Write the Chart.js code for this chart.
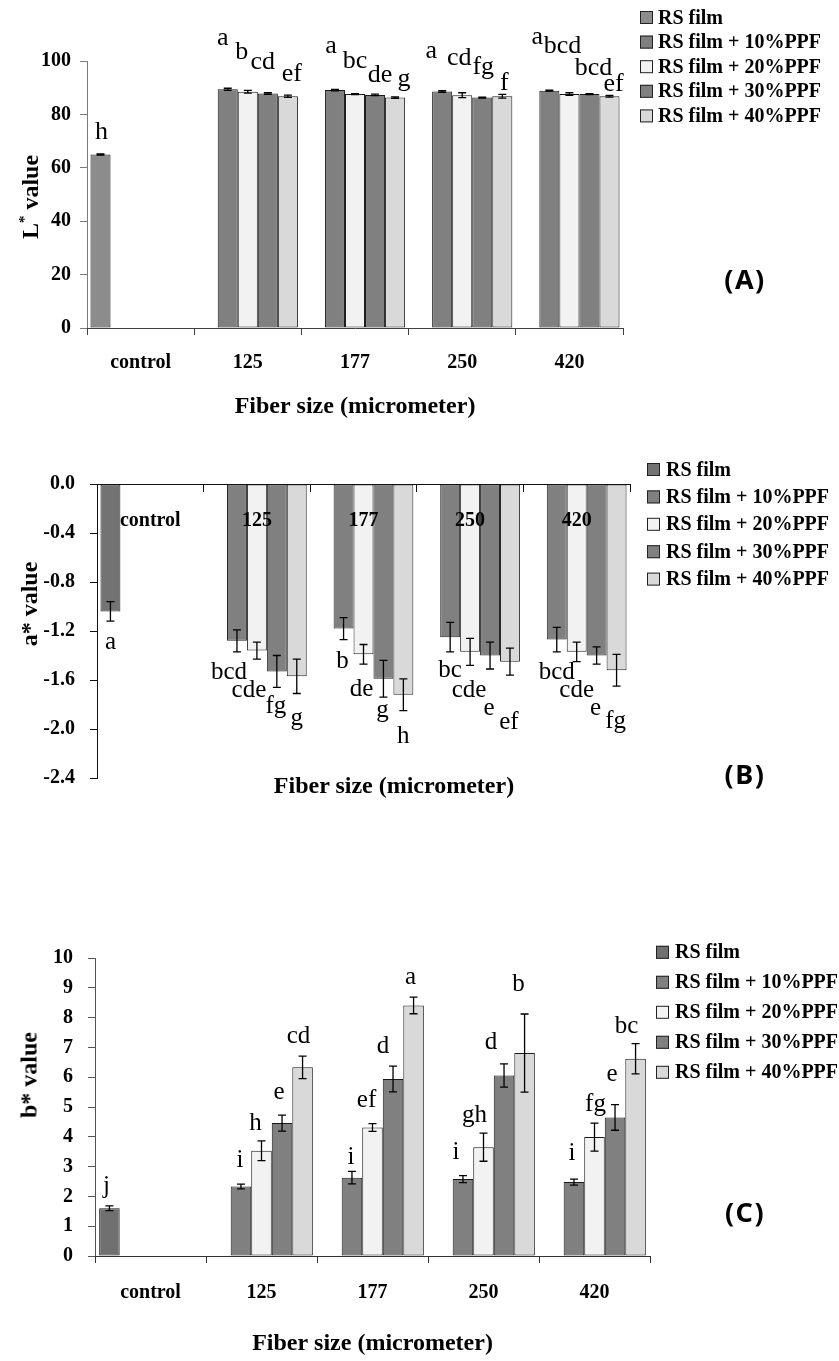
<!DOCTYPE html>
<html>
<head>
<meta charset="utf-8">
<script src="https://cdn.jsdelivr.net/npm/chart.js@4.4.1/dist/chart.umd.min.js"></script>
<style>
  html, body { margin: 0; padding: 0; background: #fff; overflow: hidden; }
  #page { position: relative; width: 839px; height: 1361px; background: #fff; }
  canvas { position: absolute; left: 0; }
  .ytitle { position: absolute; font: bold 24px "Liberation Serif", serif; white-space: nowrap;
            transform: translate(-50%, -50%) rotate(-90deg); }
  .ytitle sup { font-size: 15px; }
  .xtitle { position: absolute; font: bold 24px "Liberation Serif", serif; white-space: nowrap;
            transform: translate(-50%, -50%); }
  .tag { position: absolute; font: bold 27px "Noto Sans", sans-serif; letter-spacing: 1.5px;
         transform: translate(-50%, -50%); }
</style>
</head>
<body>
<div id="page">
  <canvas id="chartL" width="839" height="430" style="top:0px"></canvas>
  <canvas id="chartA" width="839" height="400" style="top:430px"></canvas>
  <canvas id="chartB" width="839" height="531" style="top:830px"></canvas>

  <div class="ytitle" style="left:30px; top:197px">L<sup>*</sup> value</div>
  <div class="ytitle" style="left:29px; top:604px">a* value</div>
  <div class="ytitle" style="left:29px; top:1075px">b* value</div>
  <div class="xtitle" style="left:394px; top:785px">Fiber size (micrometer)</div>

  <div class="tag" style="left:745px; top:278px">(A)</div>
  <div class="tag" style="left:745px; top:773px">(B)</div>
  <div class="tag" style="left:745px; top:1211px">(C)</div>
</div>

<script>
const categories = ['control', '125', '177', '250', '420'];
const seriesNames = ['RS film', 'RS film + 10%PPF', 'RS film + 20%PPF', 'RS film + 30%PPF', 'RS film + 40%PPF'];

// L* value (one row per series)
const lValues = [
  [65.0, null, null, null, null],
  [null, 89.4, 89.1, 88.6, 88.9],
  [null, 88.5, 87.6, 87.2, 87.6],
  [null, 87.8, 87.3, 86.3, 87.6],
  [null, 86.8, 86.3, 86.8, 86.8]
];
const lErrors = [
  [0.2, null, null, null, null],
  [null, 0.4, 0.3, 0.3, 0.2],
  [null, 0.5, 0.2, 0.9, 0.5],
  [null, 0.3, 0.3, 0.2, 0.2],
  [null, 0.4, 0.3, 0.7, 0.3]
];
const lLetters = [
  ['h', '', '', '', ''],
  ['', 'a', 'a', 'a', 'a'],
  ['', 'b', 'bc', 'cd', 'bcd'],
  ['', 'cd', 'de', 'fg', 'bcd'],
  ['', 'ef', 'g', 'f', 'ef']
];

// a* value
const aValues = [
  [-1.04, null, null, null, null],
  [null, -1.28, -1.18, -1.25, -1.27],
  [null, -1.36, -1.39, -1.37, -1.37],
  [null, -1.53, -1.59, -1.40, -1.40],
  [null, -1.57, -1.72, -1.45, -1.52]
];
const aErrors = [
  [0.08, null, null, null, null],
  [null, 0.09, 0.09, 0.12, 0.10],
  [null, 0.07, 0.08, 0.11, 0.08],
  [null, 0.13, 0.15, 0.11, 0.07],
  [null, 0.14, 0.13, 0.11, 0.13]
];
const aLetters = [
  ['a', '', '', '', ''],
  ['', 'bcd', 'b', 'bc', 'bcd'],
  ['', 'cde', 'de', 'cde', 'cde'],
  ['', 'fg', 'g', 'e', 'e'],
  ['', 'g', 'h', 'ef', 'fg']
];

// b* value
const bValues = [
  [1.60, null, null, null, null],
  [null, 2.33, 2.63, 2.58, 2.48],
  [null, 3.53, 4.31, 3.65, 3.99],
  [null, 4.46, 5.94, 6.06, 4.65],
  [null, 6.33, 8.41, 6.81, 6.62]
];
const bErrors = [
  [0.08, null, null, null, null],
  [null, 0.08, 0.21, 0.12, 0.10],
  [null, 0.33, 0.13, 0.47, 0.47],
  [null, 0.27, 0.43, 0.39, 0.43],
  [null, 0.38, 0.28, 1.31, 0.51]
];
const bLetters = [
  ['j', '', '', '', ''],
  ['', 'i', 'i', 'i', 'i'],
  ['', 'h', 'ef', 'gh', 'fg'],
  ['', 'e', 'd', 'd', 'e'],
  ['', 'cd', 'a', 'b', 'bc']
];

const SERIF = '"Liberation Serif", "Times New Roman", serif';

// error bars, letters and the side legend
const annotate = {
  id: 'annotate',
  afterDatasetsDraw(chart, args, opts) {
    const ctx = chart.ctx;
    const y = chart.scales.y;
    ctx.save();
    chart.data.datasets.forEach((ds, i) => {
      const meta = chart.getDatasetMeta(i);
      ds.data.forEach((v, j) => {
        if (v === null) return;
        const el = meta.data[j];
        const e = opts.errors[i][j];
        if (e) {
          const y1 = y.getPixelForValue(v - e), y2 = y.getPixelForValue(v + e);
          ctx.strokeStyle = '#000';
          ctx.lineWidth = 1.3;
          ctx.beginPath();
          ctx.moveTo(el.x, y1); ctx.lineTo(el.x, y2);
          ctx.moveTo(el.x - 4, y1); ctx.lineTo(el.x + 4, y1);
          ctx.moveTo(el.x - 4, y2); ctx.lineTo(el.x + 4, y2);
          ctx.stroke();
        }
        const txt = opts.letters[i][j];
        if (txt) {
          const off = opts.offsets[i][j];
          ctx.fillStyle = '#000';
          ctx.font = opts.letterFont;
          ctx.textAlign = 'center';
          ctx.textBaseline = 'alphabetic';
          ctx.fillText(txt, el.x + off[0], el.y + off[1]);
        }
      });
    });
    ctx.restore();
  },
  afterDraw(chart, args, opts) {
    const ctx = chart.ctx;
    const lg = opts.legend;
    ctx.save();
    chart.data.datasets.forEach((ds, i) => {
      const cy = lg.y + i * lg.gap;
      ctx.fillStyle = ds.backgroundColor;
      ctx.fillRect(lg.x, cy - 6.5, 13, 13);
      ctx.strokeStyle = '#222';
      ctx.lineWidth = 1;
      ctx.strokeRect(lg.x + 0.5, cy - 6, 12, 12);
      ctx.fillStyle = '#000';
      ctx.font = 'bold 20px ' + SERIF;
      ctx.textAlign = 'left';
      ctx.textBaseline = 'middle';
      ctx.fillText(ds.label, lg.textX, cy + 1);
    });
    ctx.restore();
  }
};

function makeChart(id, p) {
  const tickFont = { family: SERIF, size: 20, weight: 'bold' };
  return new Chart(document.getElementById(id), {
    type: 'bar',
    data: {
      labels: categories,
      datasets: seriesNames.map((name, i) => ({
        label: name,
        data: p.values[i],
        backgroundColor: p.colors[i],
        borderColor: p.edge,
        borderWidth: 1,
        borderSkipped: false,
        barPercentage: 1,
        categoryPercentage: p.catPct
      }))
    },
    options: {
      responsive: false,
      animation: false,
      layout: { padding: p.padding },
      plugins: {
        legend: { display: false },
        tooltip: { enabled: false },
        annotate: {
          errors: p.errors,
          letters: p.letters,
          offsets: p.offsets,
          letterFont: p.letterFont,
          legend: p.legend
        }
      },
      scales: {
        x: {
          position: p.xPos,
          offset: true,
          grid: { offset: true, drawOnChartArea: false, tickLength: 7, color: p.xLine },
          border: { color: p.xLine, width: 1, z: 1 },
          ticks: { z: 1, font: tickFont, color: '#000', padding: p.xPad, maxRotation: 0, autoSkip: false },
          title: {
            display: p.xTitle,
            text: 'Fiber size (micrometer)',
            font: { family: SERIF, size: 24, weight: 'bold' },
            color: '#000',
            padding: { top: 0, bottom: p.xTitlePad }
          },
          afterFit: (s) => { s.height = p.xHeight; }
        },
        y: {
          min: p.min,
          max: p.max,
          grid: { drawOnChartArea: false, tickLength: 7, color: p.yLine },
          border: { color: p.yLine, width: 1 },
          ticks: {
            stepSize: p.step,
            font: tickFont,
            color: '#000',
            padding: p.yPad,
            callback: p.fmt
          },
          afterFit: (s) => { s.width = p.left; }
        }
      }
    },
    plugins: [annotate]
  });
}

makeChart('chartL', {
  values: lValues, errors: lErrors, letters: lLetters,
  offsets: [
    [[1, -15], null, null, null, null],
    [null, [-5, -44], [-4, -37], [-11, -33], [-12, -47]],
    [null, [-6, -33], [0, -26], [-3, -30], [-7, -41]],
    [null, [-5, -25], [5, -13], [1, -24], [4, -19]],
    [null, [4, -15], [9, -12], [2, -6], [4, -5]]
  ],
  letterFont: '26px ' + SERIF,
  colors: ['#8c8c8c', '#808080', '#f2f2f2', '#808080', '#d9d9d9'],
  edge: '#1a1a1a',
  catPct: 0.935,
  padding: { left: 0, right: 216, top: 61, bottom: 0 },
  xPos: 'bottom', xPad: 16, xTitle: true, xTitlePad: 9, xHeight: 102,
  xLine: '#404040', yLine: '#7a7a7a',
  min: 0, max: 100, step: 20, yPad: 9, left: 87,
  fmt: (v) => String(v),
  legend: { x: 640, y: 17.5, gap: 24.6, textX: 658 }
});

makeChart('chartA', {
  values: aValues, errors: aErrors, letters: aLetters,
  offsets: [
    [[0, 38], null, null, null, null],
    [null, [-8, 38], [-1, 39], [0, 40], [0, 39]],
    [null, [-8, 46], [-2, 42], [-1, 45], [0, 45]],
    [null, [-1, 42], [-1, 38], [-1, 59], [-1, 59]],
    [null, [0, 49], [0, 48], [-1, 67], [-1, 58]]
  ],
  letterFont: '25px ' + SERIF,
  colors: ['#737373', '#808080', '#f2f2f2', '#808080', '#d9d9d9'],
  edge: '#262626',
  catPct: 0.935,
  padding: { left: 0, right: 209, top: 54, bottom: 52 },
  xPos: { y: 0 }, xPad: 18, xTitle: false, xTitlePad: 0, xHeight: 0,
  xLine: '#111', yLine: '#111',
  min: -2.4, max: 0, step: 0.4, yPad: 15, left: 97,
  fmt: (v) => (Math.abs(v) < 1e-9 ? 0 : v).toFixed(1),
  legend: { x: 647, y: 39.5, gap: 27.4, textX: 666 }
});

makeChart('chartB', {
  values: bValues, errors: bErrors, letters: bLetters,
  offsets: [
    [[-3, -15], null, null, null, null],
    [null, [-1, -20], [-1, -14], [-7, -20], [-2, -22]],
    [null, [-6, -21], [-6, -21], [-9, -25], [1, -26]],
    [null, [-3, -24], [-10, -26], [-13, -26], [-3, -36]],
    [null, [-4, -24], [-3, -21], [-6, -62], [-9, -26]]
  ],
  letterFont: '25px ' + SERIF,
  colors: ['#707070', '#808080', '#f2f2f2', '#808080', '#d9d9d9'],
  edge: '#1a1a1a',
  catPct: 0.925,
  padding: { left: 0, right: 189, top: 128, bottom: 0 },
  xPos: 'bottom', xPad: 18, xTitle: true, xTitlePad: 3, xHeight: 105,
  xLine: '#333', yLine: '#555',
  min: 0, max: 10, step: 1, yPad: 15, left: 95,
  fmt: (v) => String(v),
  legend: { x: 656, y: 122.3, gap: 30, textX: 675 }
});
</script>
</body>
</html>
